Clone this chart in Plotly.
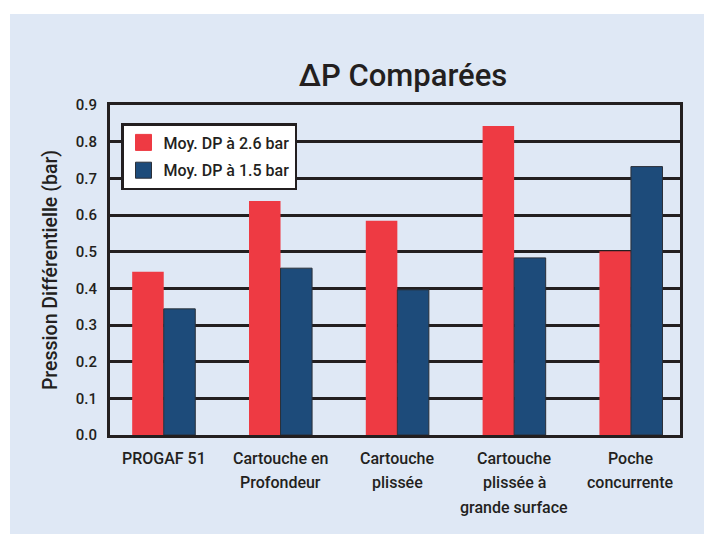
import plotly.graph_objects as go

categories = ["PROGAF 51", "Cartouche en<br>Profondeur", "Cartouche<br>plissée",
              "Cartouche<br>plissée à<br>grande surface", "Poche<br>concurrente"]
series_names = ["Moy. DP à 2.6 bar", "Moy. DP à 1.5 bar"]
values_26 = [0.445, 0.638, 0.584, 0.843, 0.501]
values_15 = [0.344, 0.455, 0.396, 0.483, 0.732]
y_ticks = [0.0, 0.1, 0.2, 0.3, 0.4, 0.5, 0.6, 0.7, 0.8, 0.9]
y_ticktext = ["0.0", "0.1", "0.2", "0.3", "0.4", "0.5", "0.6", "0.7", "0.8", "0.9"]

FONT = "Roboto, DejaVu Sans Condensed, sans-serif"
BG = "#dfe8f5"
RED = "#ee3a43"
BLUE = "#1d4b7a"
INK = "#231f20"

# page body has an 8px margin, so the figure is 8px smaller than the window
W, H = 704, 526
L, R, T, B = 102, 32, 97, 99
PW, PH = W - L - R, H - T - B

xs = list(range(len(categories)))
colors = [RED, BLUE]
outlines = [dict(width=0), dict(width=1, color="#2a2f38")]

fig = go.Figure()
for vals, name, col, ol in zip([values_26, values_15], series_names, colors, outlines):
    fig.add_trace(go.Bar(x=xs, y=vals, name=name, showlegend=False,
                         marker=dict(color=col, line=ol)))
# legend entries (square swatches)
for k, (name, col) in enumerate(zip(series_names, colors)):
    fig.add_trace(go.Scatter(x=[None], y=[None], mode="markers", name=name,
                             legendgroup=f"g{k}",
                             marker=dict(symbol="square", size=16, color=col,
                                         line=dict(width=1, color="#2a2f38" if k else col))))

annotations = []
for i, cat in enumerate(categories):
    for j, line in enumerate(cat.split("<br>")):
        annotations.append(dict(x=i, xref="x", y=0, yref="paper", yanchor="middle",
                                text=line, showarrow=False,
                                font=dict(family=FONT, size=16, color=INK, weight=500),
                                yshift=-(23 + j * 24.5)))

fig.update_layout(
    width=W, height=H,
    margin=dict(l=L, r=R, t=T, b=B, pad=0),
    paper_bgcolor="white",
    plot_bgcolor="rgba(0,0,0,0)",
    barmode="group", bargap=0.46, bargroupgap=0,
    font=dict(family=FONT, size=15, color=INK),
    title=dict(text="ΔP Comparées", x=395 / W, xanchor="center",
               y=1 - 67 / H, yanchor="middle",
               font=dict(family=FONT, size=31, color=INK, weight=500)),
    xaxis=dict(range=[-0.46, 4.42], showticklabels=False, showgrid=False,
               zeroline=False, showline=True, linewidth=3, linecolor=INK, mirror=True,
               ticks=""),
    yaxis=dict(range=[0, 0.9], tickvals=y_ticks, ticktext=y_ticktext,
               showgrid=True, gridcolor=INK, gridwidth=3,
               zeroline=False, showline=True, linewidth=3, linecolor=INK, mirror=True,
               ticks="", ticklabelstandoff=7,
               tickfont=dict(family=FONT, size=15, color=INK, weight=500),
               title=dict(text="Pression Différentielle (bar)", standoff=13,
                          font=dict(family=FONT, size=19.5, color=INK, weight=500))),
    legend=dict(x=(113 - L) / PW, y=(H - B - 115) / PH, xanchor="left", yanchor="top",
                bgcolor="white", bordercolor=INK, borderwidth=2.5,
                traceorder="grouped", tracegroupgap=4,
                font=dict(family=FONT, size=16, color=INK, weight=500)),
    shapes=[dict(type="rect", xref="paper", yref="paper", layer="below",
                 x0=(2 - L) / PW, x1=(W + 2 - L) / PW,
                 y0=-(B + 2) / PH, y1=(H - B - 6) / PH,
                 fillcolor=BG, line=dict(width=0))],
    annotations=annotations,
)

fig.write_html("out.html")
